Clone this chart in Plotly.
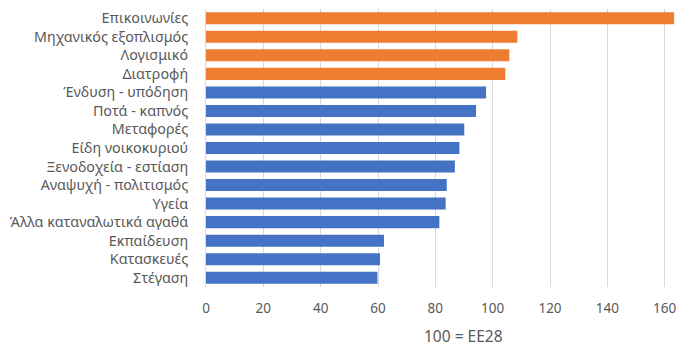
import plotly.graph_objects as go

categories = ["Επικοινωνίες", "Μηχανικός εξοπλισμός", "Λογισμικό", "Διατροφή",
              "Ένδυση - υπόδηση", "Ποτά - καπνός", "Μεταφορές", "Είδη νοικοκυριού",
              "Ξενοδοχεία - εστίαση", "Αναψυχή - πολιτισμός", "Υγεία",
              "Άλλα καταναλωτικά αγαθά", "Εκπαίδευση", "Κατασκευές", "Στέγαση"]
values = [163.3, 108.6, 105.8, 104.4, 97.7, 94.2, 90.1, 88.4, 86.8, 84.0, 83.6,
          81.4, 62.1, 60.7, 59.8]
highlight = [True, True, True, True] + [False] * 11
tick_vals = [0, 20, 40, 60, 80, 100, 120, 140, 160]
axis_title = "100 = EE28"

ORANGE = "#ED7D31"
BLUE = "#4472C4"
colors = [ORANGE if h else BLUE for h in highlight]

fig = go.Figure(go.Bar(
    x=values, y=categories, orientation="h",
    marker=dict(color=colors, line=dict(width=0)),
))

fig.update_layout(
    width=700, height=354,
    margin=dict(l=206, r=21, t=9, b=67),
    paper_bgcolor="white", plot_bgcolor="white",
    font=dict(family="Noto Sans", size=13, color="#595959"),
    bargap=0.35,
    showlegend=False,
    xaxis=dict(
        range=[0, 165], tickvals=tick_vals,
        showgrid=True, gridcolor="#D9D9D9", gridwidth=1,
        zeroline=False, showline=False,
        ticks="", ticklabelstandoff=11,
        tickfont=dict(size=13.5, color="#595959"),
    ),
    yaxis=dict(
        autorange="reversed",
        showgrid=False, zeroline=False,
        showline=True, linecolor="#D9D9D9", linewidth=1,
        ticks="", ticklabelstandoff=14,
        tickfont=dict(size=14.3, color="#595959"),
    ),
    annotations=[dict(
        text=axis_title, xref="paper", yref="paper",
        x=0.545, y=-0.176, xanchor="center", yanchor="middle",
        showarrow=False, font=dict(size=15.5, color="#595959"),
    )],
)

fig.write_html("out.html")
